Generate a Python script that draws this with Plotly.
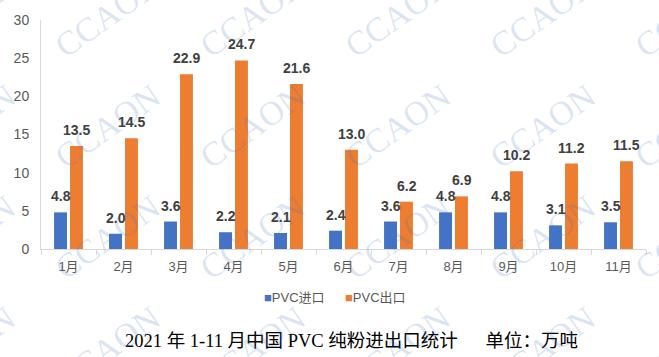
import plotly.graph_objects as go

months = ["1月", "2月", "3月", "4月", "5月", "6月", "7月", "8月", "9月", "10月", "11月"]
imports = [4.8, 2.0, 3.6, 2.2, 2.1, 2.4, 3.6, 4.8, 4.8, 3.1, 3.5]
exports = [13.5, 14.5, 22.9, 24.7, 21.6, 13.0, 6.2, 6.9, 10.2, 11.2, 11.5]
series_names = ["PVC进口", "PVC出口"]
colors = ["#4472C4", "#ED7D31"]
title_text = "2021 年 1-11 月中国 PVC 纯粉进出口统计　  单位：万吨"

W, H = 659, 357
L, R, T, B = 41, 13, 18, 108
pw, ph = W - L - R, H - T - B


def px(x):
    return (x - L) / pw


def py(y):
    return (T + ph - y) / ph


fig = go.Figure()
for name, vals, col in zip(series_names, [imports, exports], colors):
    fig.add_trace(go.Bar(x=months, y=vals, name=name, marker_color=col,
                         marker_line_width=0, showlegend=False))

annotations = []
# data labels
for vals, shift in [(imports, -8), (exports, 8)]:
    for m, v in zip(months, vals):
        annotations.append(dict(x=m, y=v, xref="x", yref="y", text=f"<b>{v:.1f}</b>",
                                showarrow=False, yanchor="bottom", xshift=shift, yshift=6,
                                font=dict(family="Liberation Sans, Arial", size=14, color="#404040")))
# legend
for (name, col), cx in zip(zip(series_names, colors), [294, 375]):
    annotations.append(dict(x=px(cx), y=py(298), xref="paper", yref="paper",
                            text=f"<span style='color:{col}'>■</span>{name}",
                            showarrow=False, xanchor="center", yanchor="middle",
                            font=dict(family="Liberation Sans, Arial, Noto Sans CJK SC", size=13, color="#595959")))
# title
annotations.append(dict(x=px(351), y=py(342), xref="paper", yref="paper",
                        text=title_text, showarrow=False, xanchor="center", yanchor="middle",
                        font=dict(family="Liberation Serif, Times New Roman, Noto Sans CJK SC", size=18.5, color="#000000")))
# watermarks
for cy in [13, 125, 237, 349]:
    for cx in [-38, 107, 252, 397, 542, 687]:
        annotations.append(dict(x=px(cx), y=py(cy), xref="paper", yref="paper",
                                text="CCAON", showarrow=False, textangle=-35,
                                xanchor="center", yanchor="middle",
                                font=dict(family="Liberation Serif, Times New Roman", size=34,
                                          color="rgba(68,114,196,0.19)")))

fig.update_layout(
    width=W, height=H,
    margin=dict(l=L, r=R, t=T, b=B),
    paper_bgcolor="white", plot_bgcolor="white",
    barmode="group", bargap=0.42, bargroupgap=0.19,
    font=dict(family="Liberation Sans, Arial, Noto Sans CJK SC", size=13, color="#595959"),
    annotations=annotations,
)
fig.update_xaxes(showline=True, linecolor="#d9d9d9", linewidth=1, ticks="outside",
                 tickson="boundaries", ticklen=5, tickcolor="#d9d9d9", showgrid=False,
                 ticklabelstandoff=5, tickfont=dict(size=13, color="#595959"))
fig.update_yaxes(range=[0, 30], dtick=5, showline=True, linecolor="#d9d9d9", linewidth=1,
                 showgrid=False, zeroline=False, ticks="", ticklabelstandoff=8,
                 tickfont=dict(size=14, color="#595959"))

fig.write_html("out.html", config={"displayModeBar": False},
               post_script="document.body.style.margin='0';document.body.style.padding='0';")
